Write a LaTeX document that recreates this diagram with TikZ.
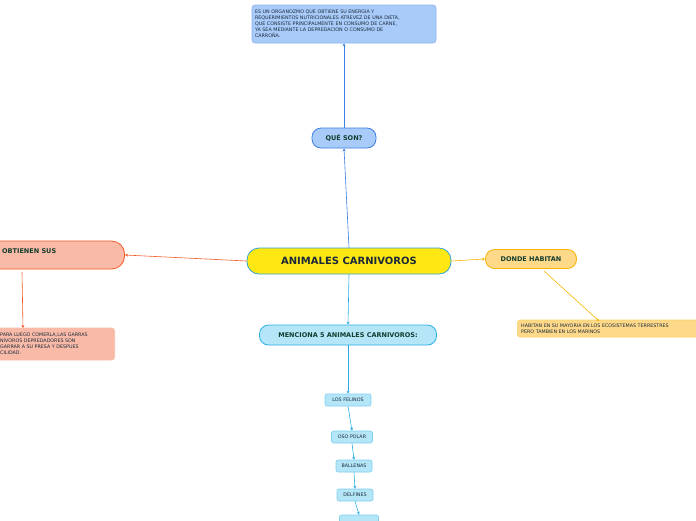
\documentclass[tikz,border=0pt]{standalone}
\usepackage{fontspec}
\setmainfont{DejaVu Sans}
\usepackage{tikz}
\usetikzlibrary{arrows.meta}
\definecolor{mainfill}{HTML}{FFE714}
\definecolor{mainline}{HTML}{2BA3D6}
\definecolor{bluefill}{HTML}{A9CBF9}
\definecolor{blueline}{HTML}{3C7FE0}
\definecolor{redfill}{HTML}{F9BBA8}
\definecolor{redline}{HTML}{F05A28}
\definecolor{yelfill}{HTML}{FFD98A}
\definecolor{yelline}{HTML}{F4B400}
\definecolor{cyanfill}{HTML}{B4E6F8}
\definecolor{cyanline}{HTML}{2BAEE6}
\definecolor{ink}{HTML}{1B2A3A}
\definecolor{darkgreen}{HTML}{133D2E}
\tikzset{
  topic/.style={rounded corners=9pt, line width=0.8pt, font=\bfseries\fontsize{6.5}{8}\selectfont, text=darkgreen, inner sep=0pt},
  note/.style={rounded corners=3pt, line width=0.6pt, font=\fontsize{4.8}{6}\selectfont, text=ink, align=left, inner sep=0pt},
  item/.style={rounded corners=2pt, draw=cyanline!60, fill=cyanfill, line width=0.6pt, font=\fontsize{4.8}{6}\selectfont, text=ink, inner sep=0pt},
  link/.style={line width=0.6pt, -{Stealth[length=3pt,width=3pt]}},
}
\begin{document}
\begin{tikzpicture}[x=1pt,y=-1pt]
  \useasboundingbox (0,0) rectangle (696,520);
  \clip (0,0) rectangle (696,520);

  \node[topic, rounded corners=12pt, draw=mainline, fill=mainfill, line width=0.8pt, minimum width=204, minimum height=26, text=ink, font=\bfseries\fontsize{10}{12}\selectfont] (main) at (349,261) {ANIMALES CARNIVOROS};

  \node[topic, draw=blueline, fill=bluefill, minimum width=64, minimum height=20] (que) at (344,138) {QUÉ SON?};
  \node[note, draw=blueline!60, fill=bluefill, minimum width=184, minimum height=38, text width=178] (def) at (344,24)
    {ES UN ORGANOZMO QUE OBTIENE SU ENERGIA Y\\REQUERIMIENTOS NUTRICIONALES ATREVEZ DE UNA DIETA,\\QUE CONSISTE PRINCIPALMENTE EN CONSUMO DE CARNE,\\YA SEA MEDIANTE LA DEPREDACION O CONSUMO DE\\CARROÑA.};

  \node[topic, rounded corners=13pt, draw=redline, fill=redfill, minimum width=185, minimum height=28, anchor=east] (how) at (125,255) {};
  \node[anchor=west, font=\bfseries\fontsize{6.5}{8}\selectfont, text=darkgreen, inner sep=0pt] (howtxt) at (2,251) {OBTIENEN SUS};
  \node[note, draw=redline!40, fill=redfill, minimum width=175, minimum height=32, anchor=east] (howbox) at (115,344) {};
  \node[anchor=west, align=left, font=\fontsize{4.8}{6}\selectfont, text=ink, inner sep=0pt] (hownote) at (0,344)
    {PARA LUEGO COMERLA,LAS GARRAS\\NIVOROS DEPREDADORES SON\\GARRAR A SU PRESA Y DESPUES\\CILIDAD.};

  \node[topic, draw=yelline, fill=yelfill, minimum width=91, minimum height=19] (donde) at (531,259) {DONDE HABITAN};
  \node[note, draw=yelline!60, fill=yelfill, minimum width=190, minimum height=17, anchor=west] (habbox) at (517,328.5) {};
  \node[anchor=west, align=left, font=\fontsize{4.8}{6}\selectfont, text=ink, inner sep=0pt] (habnote) at (521,328.5)
    {HABITAN EN SU MAYORIA EN LOS ECOSISTEMAS TERRESTRES\\PERO TAMBIEN EN LOS MARINOS};

  \node[topic, draw=cyanline, fill=cyanfill, minimum width=177, minimum height=20] (menc) at (348,335) {MENCIONA 5 ANIMALES CARNIVOROS:};
  \node[item, minimum width=46, minimum height=12] (fel) at (348,400) {LOS FELINOS};
  \node[item, minimum width=41, minimum height=12] (oso) at (352,437) {OSO POLAR};
  \node[item, minimum width=36, minimum height=12] (bal) at (354,466) {BALLENAS};
  \node[item, minimum width=36, minimum height=12] (del) at (355,495) {DELFINES};
  \node[item, minimum width=39, minimum height=12] (last) at (359,521) {};

  \draw[link, blueline] (main.north) -- (que.south);
  \draw[link, blueline] (que.north) -- (def.south);
  \draw[link, redline] (main.west) -- (how.east);
  \draw[link, redline] (22,272) -- (23,328);
  \draw[link, yelline] (main.east) -- (donde.west);
  \draw[link, yelline] (544,271) -- (599,321);
  \draw[link, cyanline] (main.south) -- (menc.north);
  \draw[link, cyanline] (menc.south) -- (fel.north);
  \draw[link, cyanline] (fel.south) -- (oso.north);
  \draw[link, cyanline] (oso.south) -- (bal.north);
  \draw[link, cyanline] (bal.south) -- (del.north);
  \draw[link, cyanline] (del.south) -- (last.north);
\end{tikzpicture}
\end{document}
